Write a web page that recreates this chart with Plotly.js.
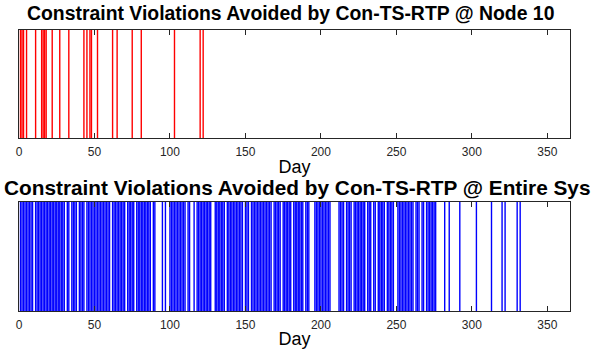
<!DOCTYPE html>
<html>
<head>
<meta charset="utf-8">
<script src="https://cdn.plot.ly/plotly-3.0.1.min.js"></script>
<style>html,body{margin:0;padding:0;background:#fff;}#chart{width:594px;height:353px;}</style>
</head>
<body>
<div id="chart"></div>
<script>
// Days with avoided constraint violations at Node 10
const node10Days = [1,2,3,5,11,15,16,17,18,22,27,33,43,45,47,48,52,62,65,75,81,103,120,122];

// Days with avoided constraint violations for the entire system
const systemDays = [
  1,2,3,4,5,6,7,8,9,
  11,12,13,14,15,16,17,18,19,20,21,22,23,24,25,26,27,28,29,30,
  32,33,35,36,37,38,40,41,42,43,
  45,46,47,48,49,50,51,52,53,54,55,56,57,58,59,60,
  62,63,64,65,66,67,68,69,70,
  72,73,74,75,76,
  78,79,80,81,82,83,84,85,86,87,
  89,90,95,97,
  100,101,102,103,104,105,106,107,108,109,110,
  112,113,116,
  118,119,120,121,122,123,124,125,126,127,
  130,131,132,133,134,135,136,
  138,139,140,141,142,143,144,145,146,147,148,
  150,151,152,
  154,155,156,157,158,159,160,161,162,163,164,165,166,167,
  169,170,171,172,173,
  175,176,177,178,179,180,
  182,183,184,185,186,187,188,
  190,191,192,
  196,197,198,199,200,201,202,203,204,205,206,
  212,213,214,215,
  217,218,219,220,
  222,223,224,225,226,227,228,229,
  231,232,233,235,236,
  238,239,240,241,242,
  244,245,246,247,248,
  251,252,253,254,255,256,257,258,259,260,261,
  263,264,265,267,268,
  270,271,272,273,274,275,276,
  282,285,292,303,313,320,322,330,332
];

const xTicks = [0,50,100,150,200,250,300,350];
const titleTop = 'Constraint Violations Avoided by Con-TS-RTP @ Node 10';
const titleBottom = 'Constraint Violations Avoided by Con-TS-RTP @ Entire Sys';
const xLabel = 'Day';

function vlines(days){
  const x = [], y = [];
  days.forEach(d => { x.push(d, d, null); y.push(0, 1, null); });
  return {x, y};
}

const t1 = vlines(node10Days);
const t2 = vlines(systemDays);

const axisColor = '#262626';
const fontFam = '"Liberation Sans", Arial, Helvetica, sans-serif';

function xAxis(anchor){
  return {
    anchor: anchor, domain: [0,1], range: [0,365],
    tickvals: xTicks, ticktext: xTicks.map(String),
    ticks: 'inside', ticklen: 5, tickwidth: 1, tickcolor: axisColor,
    showline: true, linecolor: axisColor, linewidth: 1, mirror: 'ticks',
    showgrid: false, zeroline: false, ticklabelstandoff: 3,
    tickfont: {family: fontFam, size: 12, color: axisColor},
    title: {text: xLabel, font: {family: fontFam, size: 18, color: '#000'}, standoff: 1}
  };
}
function yAxis(anchor, dom){
  return {
    anchor: anchor, domain: dom, range: [0,1],
    showline: true, linecolor: axisColor, linewidth: 1, mirror: true,
    showticklabels: false, ticks: '', showgrid: false, zeroline: false
  };
}

const data = [
  {x: t1.x, y: t1.y, xaxis: 'x', yaxis: 'y', mode: 'lines', type: 'scatter',
   line: {color: '#ff0000', width: 1.4}, hoverinfo: 'skip'},
  {x: t2.x, y: t2.y, xaxis: 'x2', yaxis: 'y2', mode: 'lines', type: 'scatter',
   line: {color: '#0000ff', width: 1.4}, hoverinfo: 'skip'}
];

const layout = {
  width: 594, height: 353,
  margin: {l: 19, r: 24, t: 0, b: 0},
  paper_bgcolor: '#ffffff', plot_bgcolor: '#ffffff',
  showlegend: false,
  font: {family: fontFam},
  xaxis: xAxis('y'),
  yaxis: yAxis('x', [0.609, 0.915]),
  xaxis2: xAxis('y2'),
  yaxis2: yAxis('x2', [0.119, 0.428]),
  annotations: [
    {text: '<b>' + titleTop + '</b>', xref: 'paper', yref: 'paper',
     x: (290 - 19)/551, y: 1 - 13/353, xanchor: 'center', yanchor: 'middle', showarrow: false,
     font: {family: fontFam, size: 19.4, color: '#000'}},
    {text: '<b>' + titleBottom + '</b>', xref: 'paper', yref: 'paper',
     x: (2 - 19)/551, y: 1 - 187/353, xanchor: 'left', yanchor: 'middle', showarrow: false,
     font: {family: fontFam, size: 20.8, color: '#000'}}
  ]
};

Plotly.newPlot('chart', data, layout, {displayModeBar: false, staticPlot: true});
</script>
</body>
</html>
